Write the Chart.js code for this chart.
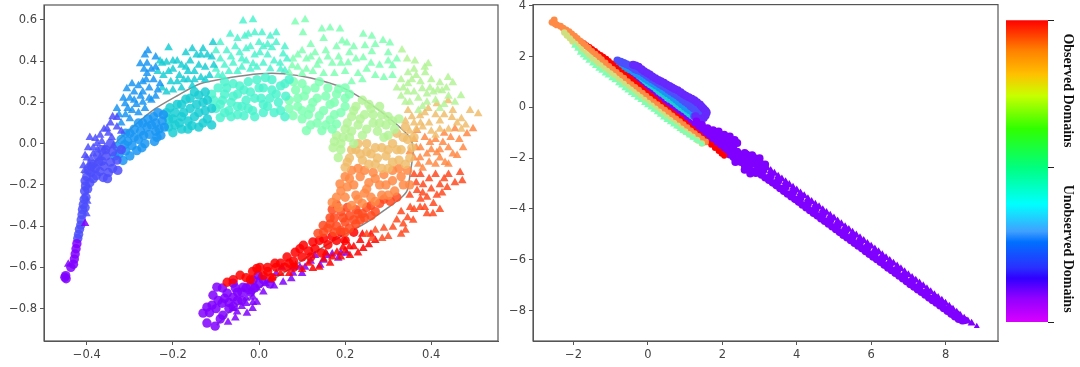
<!DOCTYPE html>
<html>
<head>
<meta charset="utf-8">
<title>Domains</title>
<script src="https://cdn.jsdelivr.net/npm/chart.js@4"></script>
<style>
  html, body { margin: 0; padding: 0; background: #fff; }
  #wrap { position: relative; width: 1080px; height: 367px; overflow: hidden; }
  canvas { position: absolute; top: 0; filter: blur(0.6px); }
</style>
</head>
<body>
<div id="wrap">
  <canvas id="left" width="515" height="367" style="left:0"></canvas>
  <canvas id="right" width="530" height="367" style="left:485px"></canvas>
  <canvas id="bar" width="80" height="367" style="left:1000px"></canvas>
</div>
<script>
// Band colours, sampled from the rainbow colour map
const VIOLET = '#8000ff', INDIGO = '#4d4ffc', BLUE = '#1a96f3', CYAN = '#1aced3', TEAL = '#4df3ce';
const MINT = '#80ffb4', LIME = '#b3f396', SAND = '#f0bd6c', ORANGE = '#ff8a45', TOMATO = '#ff4a20', RED = '#ff0000';
const PURPLE_BLUE = '#6628fd', PALE = '#d0e080';

// ── left panel: circles (inner side of the arc) ─────────────────────
const circlesViolet = [[-.451,-.648],[-.448,-.655],[-.449,-.64],[-.437,-.6],[-.431,-.585],[-.429,-.56],[-.427,-.535],[-.425,-.51],[-.423,-.485]];
const circlesIndigo = [[-.421,-.46],[-.419,-.44],[-.417,-.415],[-.414,-.395],[-.413,-.37],[-.411,-.345],[-.41,-.32],[-.408,-.295],[-.404,-.31],[-.406,-.27],[-.402,-.26],[-.405,-.23],[-.403,-.205],[-.404,-.18],[-.398,-.22],[-.4,-.16],[-.393,-.19],[-.39,-.14],[-.385,-.17],[-.38,-.12],[-.378,-.155],[-.372,-.09],[-.37,-.135],[-.362,-.164],[-.36,-.11],[-.355,-.06],[-.35,-.14],[-.345,-.09],[-.34,-.04],[-.396,-.13],[-.385,-.1],[-.375,-.06],[-.365,-.03],[-.352,-.17],[-.34,-.12],[-.33,-.08],[-.328,-.13],[-.365,-.085],[-.39,-.11],[-.356,-.03],[-.345,0],[-.32,-.03]];
const circlesBlue = [[-.335,-.06],[-.33,-.015],[-.316,-.082],[-.31,-.035],[-.305,.01],[-.3,.05],[-.295,-.01],[-.284,-.034],[-.28,.02],[-.275,.06],[-.27,.1],[-.265,0],[-.255,.045],[-.25,.09],[-.245,.13],[-.237,.03],[-.232,.07],[-.225,.11],[-.325,-.05],[-.32,.02],[-.312,-.005],[-.3,-.06],[-.29,.03],[-.29,.07],[-.272,-.02],[-.268,.04],[-.26,.08],[-.258,.12],[-.243,.01],[-.24,.06],[-.24,.1],[-.228,.04],[-.22,.08],[-.222,.14],[-.235,.15],[-.28,.1],[-.31,.05]];
const circlesCyan = [[-.215,.15],[-.21,.08],[-.2,.053],[-.2,.12],[-.207,.174],[-.19,.19],[-.185,.1],[-.175,.15],[-.17,.215],[-.165,.07],[-.156,.087],[-.15,.13],[-.145,.19],[-.14,.235],[-.13,.1],[-.125,.16],[-.12,.21],[-.21,.12],[-.195,.09],[-.195,.15],[-.18,.07],[-.18,.13],[-.18,.19],[-.165,.11],[-.16,.17],[-.16,.22],[-.14,.08],[-.14,.15],[-.13,.2],[-.12,.12],[-.11,.17],[-.11,.09],[-.15,.25],[-.125,.25]];
const circlesTeal = [[-.11,.24],[-.1,.17],[-.09,.126],[-.085,.21],[-.075,.27],[-.07,.16],[-.06,.23],[-.05,.18],[-.045,.28],[-.035,.135],[-.03,.21],[-.02,.25],[-.015,.16],[-.005,.31],[.005,.22],[.01,.27],[.02,.18],[.03,.31],[.04,.24],[.05,.16],[.06,.29],[-.08,.3],[-.105,.21],[-.095,.27],[-.09,.19],[-.08,.15],[-.08,.24],[-.065,.13],[-.065,.2],[-.06,.29],[-.05,.14],[-.05,.24],[-.04,.18],[-.035,.26],[-.025,.17],[-.025,.3],[-.01,.13],[-.01,.22],[0,.27],[.01,.15],[.015,.32],[.025,.22],[.03,.26],[.035,.15],[.045,.2],[.05,.28],[.06,.13],[.062,.23],[.07,.31],[.01,.19]];
const circlesMint = [[.07,.21],[.079,.135],[.085,.26],[.09,.18],[.1,.29],[.105,.23],[.11,.063],[.115,.14],[.125,.2],[.13,.27],[.135,.1],[.146,.063],[.15,.16],[.155,.23],[.165,.115],[.17,.07],[.175,.2],[.185,.265],[.19,.15],[.2,.22],[.07,.17],[.08,.3],[.09,.22],[.1,.12],[.1,.16],[.11,.26],[.12,.09],[.12,.17],[.135,.22],[.14,.135],[.14,.3],[.155,.09],[.16,.27],[.165,.19],[.175,.14],[.18,.24],[.18,.095],[.2,.18],[.2,.27],[.21,.24]];
const circlesLime = [[.172,-.02],[.184,-.068],[.18,.04],[.19,0],[.2,.07],[.21,.03],[.215,.13],[.225,.18],[.23,.09],[.24,.04],[.245,.14],[.26,.17],[.265,.1],[.275,.06],[.285,.14],[.295,.09],[.3,.04],[.31,.11],[.175,.01],[.19,-.03],[.195,.03],[.205,.1],[.215,.06],[.22,0],[.22,.16],[.235,.12],[.24,.21],[.25,.07],[.255,.19],[.265,.14],[.28,.1],[.28,.18],[.29,.03],[.3,.13],[.315,.07],[.325,.12]];
const circlesSand = [[.2,-.115],[.21,-.07],[.225,-.03],[.24,-.08],[.25,0],[.26,-.05],[.27,-.1],[.285,-.02],[.295,-.06],[.31,0],[.32,.05],[.33,-.03],[.345,.02],[.35,-.07],[.34,.08],[.3,-.12],[.205,-.09],[.215,-.03],[.23,0],[.235,-.05],[.25,-.04],[.255,-.1],[.27,-.02],[.275,-.07],[.285,-.12],[.3,-.03],[.31,-.09],[.32,-.03],[.325,-.08],[.335,.03],[.34,-.1],[.355,-.02],[.36,.03]];
const circlesOrange = [[.188,-.195],[.2,-.16],[.215,-.13],[.22,-.2],[.235,-.16],[.245,-.24],[.255,-.19],[.265,-.14],[.28,-.2],[.29,-.15],[.3,-.25],[.31,-.18],[.325,-.12],[.335,-.2],[.17,-.285],[.2,-.26],[.215,-.3],[.23,-.27],[.27,-.28],[.19,-.23],[.205,-.21],[.21,-.17],[.225,-.25],[.23,-.12],[.245,-.13],[.25,-.22],[.26,-.26],[.27,-.17],[.285,-.25],[.295,-.2],[.31,-.13],[.315,-.23],[.33,-.16],[.345,-.13],[.35,-.2],[.18,-.26],[.185,-.31],[.24,-.29]];
const circlesTomato = [[.165,-.36],[.17,-.32],[.19,-.33],[.2,-.38],[.21,-.35],[.23,-.34],[.25,-.31],[.27,-.33],[.29,-.27],[.149,-.397],[.16,-.41],[.18,-.4],[.137,-.435],[.2,-.43],[.225,-.39],[.245,-.36],[.175,-.36],[.18,-.295],[.195,-.36],[.205,-.31],[.22,-.37],[.225,-.32],[.24,-.34],[.26,-.3],[.28,-.29],[.305,-.28],[.32,-.26],[.165,-.39],[.19,-.42],[.15,-.43],[.175,-.43],[.21,-.41],[.235,-.37],[.26,-.35]];
const circlesRed = [[.125,-.477],[.15,-.46],[.103,-.493],[.13,-.51],[.17,-.45],[.084,-.527],[.1,-.55],[.19,-.43],[.065,-.55],[.05,-.58],[.037,-.58],[.002,-.6],[.02,-.6],[.02,-.62],[-.005,-.605],[-.044,-.638],[-.03,-.65],[-.074,-.672],[.06,-.6],[.08,-.57],[.14,-.47],[.16,-.49],[.115,-.52],[.145,-.53],[.095,-.51],[.07,-.58],[.08,-.6],[.04,-.6],[.01,-.64],[.03,-.65],[-.015,-.62],[-.06,-.66],[-.02,-.66],[.18,-.47],[.2,-.47],[.22,-.43],[.12,-.55]];
const circlesEnd = [[-.121,-.87],[-.102,-.885],[-.13,-.822],[-.121,-.793],[-.098,-.696],[-.107,-.735],[-.109,-.783],[-.084,-.832],[-.074,-.725],[-.06,-.677],[-.086,-.774],[-.06,-.745],[-.037,-.696],[-.014,-.662],[-.002,-.638],[-.06,-.79],[-.04,-.76],[-.02,-.72],[-.115,-.82],[-.1,-.8],[-.095,-.76],[-.085,-.7],[-.08,-.75],[-.07,-.77],[-.07,-.8],[-.05,-.72],[-.05,-.76],[-.04,-.72],[-.03,-.7],[-.02,-.69],[-.01,-.7],[0,-.68],[-.09,-.85],[-.055,-.7],[.01,-.66],[.025,-.68]];

// ── left panel: triangles (outer side of the arc) ───────────────────
const trianglesViolet = [[-.443,-.585],[-.404,-.387]];
const trianglesIndigo = [[-.401,-.34],[-.399,-.28],[-.393,.03],[-.369,.04],[-.397,-.02],[-.376,0],[-.404,-.058],[-.385,-.05],[-.408,-.107],[-.395,-.1],[-.353,.072],[-.342,.03],[-.358,-.02],[-.33,.126],[-.369,-.067],[-.405,-.13],[-.4,-.07],[-.39,-.075],[-.385,-.02],[-.38,.025],[-.365,.01],[-.35,.05],[-.345,.1],[-.338,-.01],[-.36,.07],[-.32,.06],[-.33,.08],[-.375,-.03],[-.34,.13]];
const trianglesBlue = [[-.33,.17],[-.32,.1],[-.31,.14],[-.311,.193],[-.307,.266],[-.3,.22],[-.295,.16],[-.29,.25],[-.285,.19],[-.275,.23],[-.27,.3],[-.265,.17],[-.26,.34],[-.255,.27],[-.25,.21],[-.245,.31],[-.24,.37],[-.235,.26],[-.258,.45],[-.267,.36],[-.276,.387],[-.325,.14],[-.315,.22],[-.305,.17],[-.3,.12],[-.295,.29],[-.29,.21],[-.28,.15],[-.28,.28],[-.27,.2],[-.265,.43],[-.27,.25],[-.26,.39],[-.255,.22],[-.25,.36],[-.24,.23],[-.24,.42],[-.23,.29],[-.262,.31]];
const trianglesCyan = [[-.23,.4],[-.222,.33],[-.215,.395],[-.21,.465],[-.205,.3],[-.2,.36],[-.19,.4],[-.185,.33],[-.18,.27],[-.17,.37],[-.165,.31],[-.155,.28],[-.15,.35],[-.145,.43],[-.135,.32],[-.13,.46],[-.125,.37],[-.115,.33],[-.107,.49],[-.11,.42],[-.235,.35],[-.225,.39],[-.225,.27],[-.215,.25],[-.21,.35],[-.2,.4],[-.2,.26],[-.19,.3],[-.18,.38],[-.175,.31],[-.165,.35],[-.16,.4],[-.15,.31],[-.14,.38],[-.135,.43],[-.125,.31],[-.12,.43],[-.105,.38],[-.17,.44],[-.155,.46]];
const trianglesTeal = [[-.1,.36],[-.09,.41],[-.085,.33],[-.075,.45],[-.067,.53],[-.06,.39],[-.05,.35],[-.045,.44],[-.037,.595],[-.033,.52],[-.03,.4],[-.02,.47],[-.014,.6],[-.01,.537],[-.014,.387],[.002,.44],[.007,.537],[.02,.48],[.026,.52],[.03,.465],[.04,.537],[.026,.363],[.049,.39],[.056,.435],[-.005,.37],[.06,.355],[-.1,.45],[-.095,.33],[-.09,.49],[-.08,.38],[-.07,.35],[-.065,.42],[-.055,.47],[-.05,.51],[-.04,.37],[-.04,.41],[-.03,.46],[-.025,.53],[-.02,.36],[-.01,.43],[0,.49],[.01,.39],[.01,.47],[.02,.43],[.035,.4],[.04,.49],[.05,.36],[.06,.47],[.065,.41]];
const trianglesMint = [[.077,.377],[.079,.41],[.084,.59],[.1,.45],[.102,.537],[.107,.6],[.11,.36],[.12,.42],[.135,.38],[.146,.556],[.15,.51],[.16,.42],[.165,.56],[.18,.47],[.188,.556],[.19,.39],[.193,.498],[.204,.488],[.207,.392],[.242,.53],[.262,.52],[.288,.5],[.304,.488],[.246,.474],[.262,.445],[.242,.416],[.3,.4],[.25,.36],[.28,.38],[.31,.377],[.07,.345],[.09,.37],[.09,.43],[.1,.34],[.11,.41],[.12,.48],[.125,.35],[.13,.44],[.14,.4],[.15,.34],[.155,.45],[.17,.39],[.175,.34],[.185,.42],[.2,.35],[.21,.44],[.215,.3],[.225,.41],[.23,.34],[.24,.31],[.26,.39],[.27,.33],[.29,.32],[.3,.44],[.31,.33],[.32,.41],[.27,.48],[.22,.47]];
const trianglesLime = [[.33,.31],[.346,.29],[.36,.25],[.365,.33],[.379,.266],[.39,.2],[.393,.387],[.397,.27],[.386,.343],[.42,.295],[.425,.256],[.439,.32],[.45,.295],[.469,.232],[.344,.41],[.362,.4],[.332,.454],[.346,.343],[.41,.21],[.43,.19],[.33,.23],[.35,.2],[.37,.16],[.335,.27],[.34,.2],[.355,.31],[.37,.22],[.375,.3],[.385,.37],[.39,.24],[.4,.31],[.405,.25],[.415,.26],[.42,.17],[.435,.27],[.44,.23],[.455,.2],[.38,.18],[.36,.36],[.345,.25],[.32,.27]];
const trianglesSand = [[.346,.16],[.374,.135],[.393,.17],[.413,.193],[.439,.208],[.448,.126],[.49,.16],[.509,.145],[.38,.08],[.42,.11],[.4,.06],[.44,.07],[.36,.1],[.47,.07],[.355,.13],[.365,.07],[.375,.1],[.385,.15],[.395,.1],[.41,.14],[.42,.07],[.43,.14],[.45,.16],[.46,.1],[.47,.12],[.48,.09],[.34,.11],[.35,.06],[.41,.04]];
const trianglesOrange = [[.497,.072],[.483,.048],[.455,.072],[.474,-.02],[.46,-.058],[.432,-.092],[.413,-.044],[.39,-.05],[.374,-.068],[.397,.005],[.427,.005],[.367,.063],[.44,-.02],[.365,-.02],[.41,-.1],[.38,-.12],[.36,.02],[.375,-.02],[.385,.03],[.4,-.03],[.41,.02],[.42,-.03],[.43,.05],[.445,.03],[.45,-.05],[.465,.02],[.42,-.07],[.395,-.09],[.36,-.07],[.35,-.04],[.37,-.1],[.44,-.1]];
const trianglesTomato = [[.437,-.213],[.39,-.26],[.413,-.25],[.42,-.32],[.404,-.34],[.39,-.34],[.374,-.31],[.358,-.372],[.335,-.39],[.311,-.406],[.286,-.46],[.262,-.46],[.3,-.45],[.34,-.42],[.367,-.227],[.351,-.31],[.381,-.2],[.33,-.33],[.41,-.15],[.375,-.15],[.42,-.2],[.467,-.14],[.472,-.18],[.36,-.15],[.365,-.19],[.38,-.24],[.395,-.17],[.4,-.22],[.405,-.29],[.425,-.24],[.43,-.17],[.44,-.15],[.455,-.19],[.375,-.27],[.35,-.25],[.345,-.36],[.32,-.37],[.36,-.32],[.385,-.31],[.29,-.41],[.27,-.42],[.25,-.44],[.33,-.44]];
const trianglesRed = [[.242,-.508],[.211,-.542],[.165,-.58],[.125,-.605],[.235,-.47],[.195,-.503],[.181,-.527],[.255,-.49],[.27,-.47],[.22,-.5],[.15,-.56],[.1,-.61],[.05,-.63],[.26,-.44],[.24,-.44],[.23,-.53],[.2,-.47],[.19,-.55],[.17,-.55],[.155,-.53],[.14,-.6],[.115,-.58],[.085,-.59],[.07,-.63],[.03,-.65],[.21,-.5],[.2,-.52]];
const trianglesEnd = [[.204,-.532],[.184,-.556],[.158,-.542],[.13,-.542],[.142,-.59],[.107,-.6],[.079,-.629],[.053,-.6],[.056,-.672],[.026,-.662],[.002,-.648],[.01,-.72],[-.014,-.745],[-.014,-.77],[-.051,-.817],[-.028,-.822],[-.072,-.866],[-.005,-.769],[-.03,-.775],[.19,-.53],[.17,-.535],[.15,-.565],[.12,-.57],[.095,-.6],[.1,-.63],[.075,-.655],[.08,-.6],[.04,-.63],[.035,-.69],[.015,-.68],[-.005,-.7],[-.02,-.72],[-.03,-.75],[-.04,-.79],[-.055,-.845],[-.06,-.8],[-.015,-.8]];

// Grey curve through the left panel
const curveLine = [[-.411,-.145],[-.369,-.067],[-.295,.077],[-.242,.168],[-.19,.232],[-.137,.29],[-.067,.32],[.002,.339],[.056,.339],[.118,.319],[.195,.27],[.258,.193],[.304,.121],[.351,.029],[.358,-.034],[.351,-.145],[.344,-.227],[.328,-.266],[.297,-.314],[.25,-.382],[.195,-.445],[.118,-.542],[.056,-.629],[.002,-.696],[-.021,-.745],[-.06,-.798],[-.098,-.88]];

// ── right panel: stripes along the diagonal ─────────────────────────
const rightMint = [[-1.9,2.3],[-1.75,2.05],[-1.6,1.83],[-1.42,1.62],[-1.25,1.44],[-1.08,1.25],[-.9,1.06],[-.72,.86],[-.55,.66],[-.38,.48],[-.2,.28],[-.02,.08],[.15,-.1],[.32,-.3],[.5,-.5],[.68,-.68],[.85,-.86],[1.02,-1.02],[1.2,-1.2],[1.38,-1.36],[-1.98,2.42],[-1.83,2.15],[-1.68,1.95],[-1.5,1.72],[-1.33,1.52],[-1.16,1.33],[-.98,1.14],[-.8,.94],[-.63,.75],[-.46,.56],[-.29,.37],[-.1,.17],[.07,-.01],[.24,-.2],[.41,-.4],[.59,-.59],[.76,-.76],[.93,-.94],[1.11,-1.11],[1.29,-1.28],[1.46,-1.45]];
const rightPale = [[-2.25,2.95],[-2.1,2.72],[-1.95,2.5],[-1.8,2.28],[-1.62,2.05],[-1.45,1.85],[-1.28,1.65],[-1.1,1.44],[-.92,1.24],[-.75,1.03],[-.55,.8],[-.38,.6],[-.2,.4],[0,.18],[.2,-.05],[.4,-.28],[.6,-.5],[.8,-.72],[1,-.95],[1.2,-1.15],[1.45,-1.42],[-2.18,2.83],[-2.03,2.6],[-1.88,2.38],[-1.71,2.16],[-1.54,1.95],[-1.37,1.75],[-1.19,1.54],[-1.01,1.34],[-.84,1.13],[-.65,.92],[-.46,.7],[-.29,.5],[-.1,.29],[.1,.07],[.3,-.17],[.5,-.39],[.7,-.61],[.9,-.84],[1.1,-1.05],[1.32,-1.28]];
const rightOrange = [[-2.58,3.35],[-2.52,3.45],[-2.45,3.25],[-2.35,3.2],[-2.2,3.05],[-2.05,2.9],[-1.9,2.72],[-1.75,2.52],[-1.6,2.33],[-1.42,2.1],[-1.25,1.88],[-1.05,1.62],[-.85,1.38],[-.65,1.15],[-.45,.9],[-.25,.68],[-.05,.44],[.15,.22],[.35,0],[.55,-.22],[.75,-.45],[.95,-.68],[1.15,-.92],[1.35,-1.14],[1.55,-1.36],[-2.5,3.3],[-2.28,3.12],[-2.12,2.98],[-1.97,2.81],[-1.83,2.62],[-1.68,2.43],[-1.51,2.21],[-1.33,1.99],[-1.15,1.75],[-.95,1.5],[-.75,1.26],[-.55,1.02],[-.35,.79],[-.15,.56],[.05,.33],[.25,.11],[.45,-.11],[.65,-.33],[.85,-.56],[1.05,-.8],[1.25,-1.03],[1.45,-1.25]];
const rightRed = [[-1.8,2.6],[-1.65,2.45],[-1.5,2.3],[-1.35,2.13],[-1.2,2],[-1.05,1.83],[-.92,1.65],[-.78,1.47],[-.62,1.3],[-.45,1.12],[-.28,.9],[-.1,.68],[.1,.45],[.3,.2],[.5,-.03],[.7,-.25],[.9,-.47],[1.1,-.72],[1.3,-.98],[1.5,-1.22],[1.7,-1.47],[1.9,-1.72],[2.05,-1.9],[-1.72,2.53],[-1.57,2.38],[-1.42,2.22],[-1.27,2.06],[-1.12,1.92],[-.98,1.74],[-.85,1.56],[-.7,1.38],[-.53,1.21],[-.36,1.01],[-.19,.79],[0,.56],[.2,.32],[.4,.08],[.6,-.14],[.8,-.36],[1,-.6],[1.2,-.85],[1.4,-1.1],[1.6,-1.35],[1.8,-1.6],[1.98,-1.82]];
const rightStrip = [[-.55,1.2],[-.4,1.05],[-.25,.87],[-.1,.7],[.05,.55],[.2,.36],[.35,.2],[.5,.05],[.65,-.12],[.8,-.28],[.95,-.45],[1.1,-.6],[1.25,-.75],[1.4,-.92],[1.55,-1.1],[1.7,-1.27],[1.85,-1.45],[2,-1.6],[1.3,-.55],[1.45,-.68],[1.6,-.82],[1.75,-.9],[1.9,-.95],[2.05,-1.08],[2.2,-1.15],[2.33,-1.28],[2.4,-1.4],[1.5,-.9],[1.7,-1.05],[1.9,-1.2],[2.1,-1.35],[2.25,-1.55],[2.4,-1.75],[2.6,-1.8],[2.8,-1.88],[3,-2],[3.15,-2.25],[2.55,-2],[2.75,-2.1],[2.95,-2.3],[2.2,-1.85],[2.4,-2.05],[2.6,-2.27],[2.8,-2.5],[-.48,1.13],[-.32,.96],[-.18,.78],[-.02,.62],[.12,.46],[.28,.28],[.42,.12],[.58,-.03],[.72,-.2],[.88,-.36],[1.02,-.52],[1.18,-.68],[1.32,-.83],[1.48,-1.01],[1.62,-1.18],[1.78,-1.36],[1.92,-1.52],[1.4,-.7],[1.55,-.95],[1.65,-.95],[1.8,-.98],[1.82,-1.15],[2,-1.25],[2.15,-1.25],[2.2,-1.45],[2.02,-1.45],[2.3,-1.65],[2.12,-1.65],[2.5,-1.88],[2.7,-1.95],[2.9,-2.05],[2.3,-1.95],[2.5,-2.15],[2.7,-2.38],[2.9,-2.58],[2.2,-1.3],[2.3,-1.45],[2.45,-1.95],[2.6,-2.05],[2.8,-2.2],[2.65,-1.85],[2.85,-1.98],[3,-2.15],[2.4,-1.85],[2.1,-1.55],[2.15,-1.75],[2.35,-2.15],[2.6,-2.45],[2.75,-2.6]];
const tailUpper = [[3,-2.17],[3.2,-2.38],[3.4,-2.6],[3.6,-2.82],[3.8,-3.04],[4,-3.26],[4.2,-3.48],[4.4,-3.71],[4.6,-3.92],[4.8,-4.14],[5,-4.36],[5.2,-4.59],[5.4,-4.81],[5.6,-5.03],[5.8,-5.25],[6,-5.47],[6.2,-5.69],[6.4,-5.92],[6.6,-6.14],[6.8,-6.36],[7,-6.59],[7.2,-6.81],[7.4,-7.03],[7.6,-7.26],[7.8,-7.49],[8,-7.72],[8.2,-7.95],[8.4,-8.2],[8.6,-8.42],[8.7,-8.5],[3.1,-2.28],[3.3,-2.49],[3.5,-2.71],[3.7,-2.93],[3.9,-3.15],[4.1,-3.37],[4.3,-3.6],[4.5,-3.82],[4.7,-4.03],[4.9,-4.25],[5.1,-4.48],[5.3,-4.7],[5.5,-4.92],[5.7,-5.14],[5.9,-5.36],[6.1,-5.58],[6.3,-5.81],[6.5,-6.03],[6.7,-6.25],[6.9,-6.48],[7.1,-6.7],[7.3,-6.92],[7.5,-7.15],[7.7,-7.38],[7.9,-7.6],[8.1,-7.84],[8.3,-8.07],[8.5,-8.31]];
const tailMiddle = [[3.1,-2.48],[3.3,-2.7],[3.5,-2.91],[3.7,-3.13],[3.9,-3.35],[4.1,-3.57],[4.3,-3.79],[4.5,-4.01],[4.7,-4.22],[4.9,-4.44],[5.1,-4.66],[5.3,-4.88],[5.5,-5.1],[5.7,-5.32],[5.9,-5.53],[6.1,-5.75],[6.3,-5.97],[6.5,-6.19],[6.7,-6.41],[6.9,-6.63],[7.1,-6.85],[7.3,-7.06],[7.5,-7.28],[7.7,-7.5],[7.9,-7.72],[8.1,-7.94],[8.3,-8.16],[8.5,-8.38]];
const tailLower = [[2.95,-2.55],[3.15,-2.77],[3.35,-2.97],[3.55,-3.19],[3.75,-3.41],[3.95,-3.62],[4.15,-3.84],[4.35,-4.06],[4.55,-4.27],[4.75,-4.48],[4.95,-4.7],[5.15,-4.92],[5.35,-5.13],[5.55,-5.35],[5.75,-5.56],[5.95,-5.78],[6.15,-5.99],[6.35,-6.21],[6.55,-6.42],[6.75,-6.64],[6.95,-6.86],[7.15,-7.07],[7.35,-7.28],[7.55,-7.5],[7.75,-7.7],[7.95,-7.92],[8.15,-8.14],[8.35,-8.34],[3.05,-2.66],[3.25,-2.87],[3.45,-3.08],[3.65,-3.3],[3.85,-3.52],[4.05,-3.73],[4.25,-3.95],[4.45,-4.17],[4.65,-4.38],[4.85,-4.59],[5.05,-4.81],[5.25,-5.03],[5.45,-5.24],[5.65,-5.46],[5.85,-5.67],[6.05,-5.89],[6.25,-6.1],[6.45,-6.32],[6.65,-6.53],[6.85,-6.75],[7.05,-6.97],[7.25,-7.18],[7.45,-7.39],[7.65,-7.6],[7.85,-7.81],[8.05,-8.03],[8.25,-8.24],[8.45,-8.4]];
const tailTip = [[8.84,-8.62]];
const rightOuter = [[-.4,1.68],[-.25,1.6],[-.1,1.42],[.05,1.3],[.2,1.15],[.35,1.03],[.5,.9],[.65,.78],[.8,.68],[.95,.52],[1.1,.4],[1.25,.28],[1.4,.12],[1.5,-.05],[1.58,-.2],[1.5,-.42],[1.35,-.45],[-.33,1.65],[-.17,1.5],[-.02,1.36],[.12,1.22],[.28,1.08],[.43,.97],[.58,.84],[.72,.73],[.88,.6],[1.02,.46],[1.18,.34],[1.32,.2],[1.45,.03],[1.55,-.13],[1.55,-.32],[1.42,-.45],[1.28,-.35]];
const rightIndigo = [[-.82,1.85],[-.65,1.75],[-.5,1.65],[-.35,1.5],[-.2,1.42],[-.05,1.28],[.1,1.12],[.25,.98],[.4,.84],[.55,.7],[.7,.55],[.85,.4],[1,.22],[1.15,.05],[1.3,-.12],[1.4,-.28],[-.73,1.8],[-.58,1.7],[-.42,1.58],[-.28,1.46],[-.12,1.35],[.02,1.2],[.18,1.05],[.32,.91],[.48,.77],[.62,.63],[.78,.48],[.92,.31],[1.08,.14],[1.22,-.03],[1.35,-.2],[1.25,-.35]];
const rightBlue = [[-.75,1.72],[-.6,1.55],[-.45,1.42],[-.3,1.3],[-.15,1.2],[0,1.05],[.15,.92],[.3,.77],[.45,.62],[.6,.47],[.75,.3],[.9,.12],[1.05,-.05],[1.2,-.2],[-.68,1.63],[-.52,1.48],[-.38,1.36],[-.22,1.25],[-.08,1.12],[.08,.98],[.22,.85],[.38,.7],[.52,.55],[.68,.38],[.82,.21],[.98,.03],[1.12,-.12],[1.22,-.3]];
const rightCyan = [[-.35,1.15],[-.2,1.05],[-.03,.9],[.12,.75],[.27,.6],[.42,.45],[.55,.3],[.7,.12],[.85,-.05],[1,-.22],[1.13,-.37],[-.28,1.1],[-.12,.98],[.05,.83],[.2,.68],[.35,.52],[.48,.38],[.62,.21],[.78,.03],[.92,-.13],[1.06,-.3]];

// Tick values
const leftXTicks = [-0.4, -0.2, 0, 0.2, 0.4];
const leftYTicks = [-0.8, -0.6, -0.4, -0.2, 0, 0.2, 0.4, 0.6];
const rightXTicks = [-2, 0, 2, 4, 6, 8];
const rightYTicks = [-8, -6, -4, -2, 0, 2, 4];

// Colour bar
const barStops = [0, .1, .18, .25, .36, .49, .61, .7, .735, .82, .855, .92, 1];
const barColors = ['#ff0000', '#ff8000', '#ffc000', '#c8ff00', '#30ff00', '#00ff80', '#00ffff', '#40a0ff', '#0070ff', '#2a30ff', '#3000ff', '#9000ff', '#d800ff'];
const barTicks = [0, 0.487, 1];
const barLabels = ['Observed Domains', 'Unobserved Domains'];
const barLabelAt = [0.233, 0.757];

const TICK_FONT = { family: '"DejaVu Sans"', size: 11.5 };
const TICK_COLOR = '#444';
const SPINE = '#555';

const framePlugin = {
  id: 'frame',
  afterDraw(chart) {
    const { ctx, chartArea: a } = chart;
    ctx.save();
    ctx.strokeStyle = SPINE;
    ctx.lineWidth = 1.2;
    ctx.strokeRect(a.left, a.top, a.right - a.left, a.bottom - a.top);
    ctx.restore();
  }
};

function toXY(list) {
  return list.map(([x, y]) => ({ x, y }));
}

function layer(list, color, style, radius) {
  return {
    data: toXY(list),
    pointStyle: style,
    pointRadius: radius,
    pointBackgroundColor: color,
    pointBorderWidth: 0,
    showLine: false
  };
}

function axis(min, max, values, leftAxis, decimals) {
  return {
    type: 'linear',
    min, max,
    grid: { drawOnChartArea: false, tickLength: 4, tickColor: SPINE, tickWidth: 1 },
    border: { color: SPINE },
    afterBuildTicks: s => { s.ticks = values.map(value => ({ value })); },
    afterFit: s => {
      // fixed axis sizes, no extra room for the outer tick labels
      if (leftAxis) s.width = leftAxis; else s.height = 26;
      s.paddingLeft = s.paddingRight = s.paddingTop = s.paddingBottom = 0;
    },
    ticks: {
      color: TICK_COLOR,
      font: TICK_FONT,
      padding: 3,
      maxRotation: 0,
      callback: v => Number(v).toFixed(decimals).replace('-', '\u2212')
    }
  };
}

function panel(id, datasets, xAxis, yAxis, padding) {
  return new Chart(document.getElementById(id), {
    type: 'scatter',
    data: { datasets },
    options: {
      responsive: false,
      animation: false,
      clip: false,
      layout: { padding },
      plugins: { legend: { display: false }, tooltip: { enabled: false } },
      scales: { x: xAxis, y: yAxis }
    },
    plugins: [framePlugin]
  });
}

// Left panel, drawn in domain order so the last domains sit on top
const leftLayers = [
  [circlesViolet, trianglesViolet, VIOLET], [circlesIndigo, trianglesIndigo, INDIGO],
  [circlesBlue, trianglesBlue, BLUE], [circlesCyan, trianglesCyan, CYAN],
  [circlesTeal, trianglesTeal, TEAL], [circlesMint, trianglesMint, MINT],
  [circlesLime, trianglesLime, LIME], [circlesSand, trianglesSand, SAND],
  [circlesOrange, trianglesOrange, ORANGE], [circlesTomato, trianglesTomato, TOMATO],
  [circlesRed, trianglesRed, RED], [circlesEnd, trianglesEnd, VIOLET]
];
const leftSets = [];
leftLayers.forEach(([circles, triangles, color]) => {
  leftSets.push(layer(circles, color + 'd9', 'circle', 4.7));
  leftSets.push(layer(triangles, color + 'd9', 'triangle', 5));
});
leftSets.push({
  data: toXY(curveLine),
  showLine: true,
  pointRadius: 0,
  borderColor: 'rgba(95,95,95,0.75)',
  borderWidth: 1.5,
  tension: 0.25
});

panel('left', leftSets,
  axis(-0.4994, 0.555, leftXTicks, 0, 1),
  axis(-0.957, 0.672, leftYTicks, 44, 1),
  { top: 4, right: 17, left: 0, bottom: 0 });

// Right panel
const rightSets = [
  layer(rightMint, MINT, 'triangle', 3.6),
  layer(rightPale, PALE, 'circle', 3.2),
  layer(rightOrange, ORANGE, 'circle', 3.4),
  layer(rightRed, RED, 'circle', 3),
  layer(rightStrip, VIOLET, 'circle', 4),
  layer(tailUpper, VIOLET, 'triangle', 4.6),
  layer(tailMiddle, VIOLET, 'circle', 4),
  layer(tailLower, VIOLET, 'circle', 3.8),
  layer(tailTip, VIOLET, 'triangle', 3.4),
  layer(rightOuter, PURPLE_BLUE, 'circle', 4),
  layer(rightIndigo, INDIGO, 'circle', 4),
  layer(rightBlue, BLUE, 'circle', 3.6),
  layer(rightCyan, CYAN, 'circle', 2.8)
];

panel('right', rightSets,
  axis(-3.09, 9.41, rightXTicks, 0, 0),
  axis(-9.2, 4.05, rightYTicks, 48, 0),
  { top: 4, right: 17, left: 0, bottom: 0 });

// Colour bar: one bar filled with the map, labels turned along it
const barLabelPlugin = {
  id: 'barLabel',
  afterDraw(chart) {
    const { ctx } = chart;
    const y = chart.scales.y;
    ctx.save();
    ctx.fillStyle = '#111';
    ctx.font = 'bold 14px "Liberation Serif"';
    ctx.textAlign = 'center';
    ctx.textBaseline = 'middle';
    barLabels.forEach((text, i) => {
      ctx.save();
      ctx.translate(68, y.getPixelForValue(barLabelAt[i]));
      ctx.rotate(Math.PI / 2);
      ctx.fillText(text, 0, 0);
      ctx.restore();
    });
    ctx.restore();
  }
};

new Chart(document.getElementById('bar'), {
  type: 'bar',
  data: {
    labels: ['domains'],
    datasets: [{
      data: [[0, 1]],
      barPercentage: 1,
      categoryPercentage: 1,
      backgroundColor: ctx => {
        const area = ctx.chart.chartArea;
        if (!area) return barColors[0];
        const g = ctx.chart.ctx.createLinearGradient(0, area.top, 0, area.bottom);
        barStops.forEach((stop, i) => g.addColorStop(stop, barColors[i]));
        return g;
      }
    }]
  },
  options: {
    responsive: false,
    animation: false,
    layout: { padding: { left: 6, top: 20, bottom: 45, right: 0 } },
    plugins: { legend: { display: false }, tooltip: { enabled: false } },
    scales: {
      x: { display: false },
      y: {
        position: 'right',
        reverse: true,
        min: 0,
        max: 1,
        grid: { drawOnChartArea: false, tickLength: 6, tickColor: '#222', tickWidth: 1 },
        border: { display: false },
        afterBuildTicks: s => { s.ticks = barTicks.map(value => ({ value })); },
        afterFit: s => { s.width = 32; },
        ticks: { display: false }
      }
    }
  },
  plugins: [barLabelPlugin]
});
</script>
</body>
</html>
